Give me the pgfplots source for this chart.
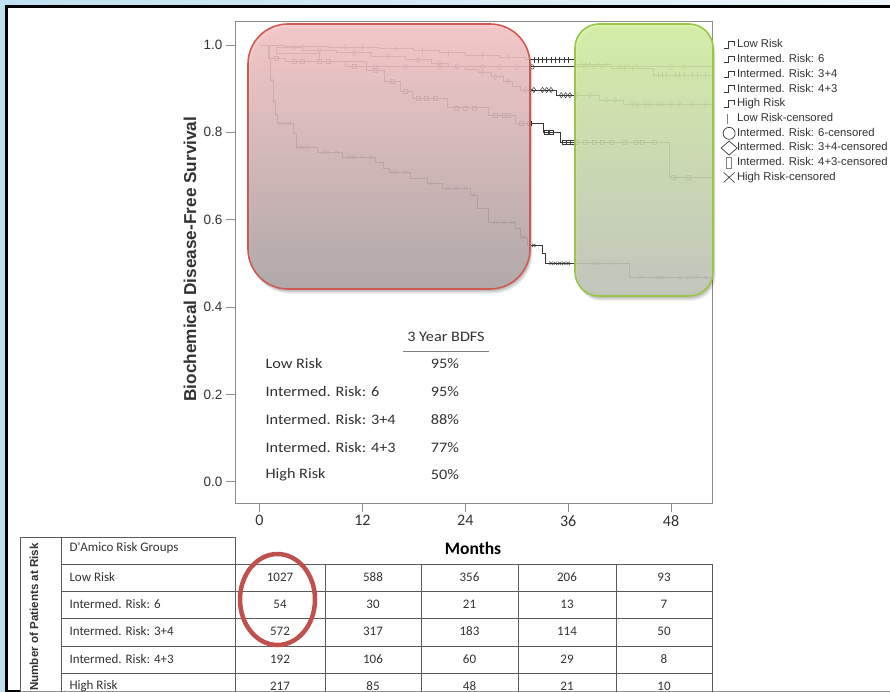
\documentclass[border=0pt]{standalone}
\usepackage{fontspec}
\setmainfont{Liberation Sans}
\newfontfamily\calfont{Carlito}
\newfontfamily\calw{Carlito}[FakeStretch=1.12]
\usepackage{pgfplots}
\pgfplotsset{compat=1.18}
\definecolor{txt}{RGB}{50,50,50}
\definecolor{axc}{RGB}{140,140,140}
\definecolor{curve}{RGB}{55,55,55}
\definecolor{redb}{RGB}{208,88,82}
\definecolor{redt}{RGB}{251,200,200}
\definecolor{redm}{RGB}{196,156,156}
\definecolor{redbot}{RGB}{174,166,166}
\definecolor{grb}{RGB}{155,197,70}
\definecolor{grt}{RGB}{214,244,164}
\definecolor{grm}{RGB}{155,176,122}
\definecolor{grbot}{RGB}{194,198,188}
\definecolor{ellc}{RGB}{192,80,77}
\definecolor{bgl}{RGB}{190,224,240}
\definecolor{bgr}{RGB}{236,246,251}
\definecolor{tbl}{RGB}{90,90,90}
\begin{document}
\begin{tikzpicture}
\path[use as bounding box] (0pt,0pt) rectangle (890pt,-692pt);
\clip (0pt,0pt) rectangle (890pt,-692pt);
\begin{scope}[x=1pt,y=-1pt]
\shade[left color=bgl, right color=bgr] (0,0) rectangle (890,692);
\fill[white] (7,7) rectangle (900,691);
\draw[black, line width=3pt] (900,6.5) -- (6.5,6.5) -- (6.5,692);
\draw[black, line width=1.2pt] (5,691) -- (20,691);
\draw[axc, line width=0.8pt] (20,691) -- (890,691);
\end{scope}
\begin{axis}[
  at={(235pt,-503pt)}, anchor=south west,
  scale only axis, width=477pt, height=482pt,
  xmin=-2.858, xmax=52.78, ymin=-0.0488, ymax=1.055,
  xtick={0,12,24,36,48}, ytick={0,0.2,0.4,0.6,0.8,1.0},
  /pgf/number format/assume math mode=true,
  yticklabel style={/pgf/number format/fixed, /pgf/number format/fixed zerofill, /pgf/number format/precision=1, font=\fontsize{13.5}{13.5}\selectfont, text=txt},
  tick align=outside, major tick length=9pt, tick pos=left,
  axis line style={axc, line width=0.8pt},
  tick style={axc, line width=0.8pt},
  xticklabel style={font=\calfont\fontsize{16}{16}\selectfont, text=txt},
  ylabel={Biochemical Disease-Free Survival},
  ylabel style={font=\bfseries\fontsize{17.2}{17.2}\selectfont, text=txt, at={(axis description cs:-0.0943,0.506)}, anchor=center},
  legend style={at={(axis description cs:1.021,0.9635)}, anchor=north west, draw=none, fill=none, inner sep=0pt, row sep=2pt,
    font=\fontsize{11.3}{12}\selectfont, text=txt, nodes={text height=8.2pt, text depth=2.5pt, inner sep=1pt}},
  legend cell align=left,
  stepleg/.style={legend image code/.code={\path (0pt,0pt) (13pt,0pt); \draw[overlay, line width=0.7pt, curve] (1pt,-3pt) -- (6pt,-3pt) -- (6pt,3.5pt) -- (12pt,3.5pt) -- (12pt,-1pt);}},
  km/.style={const plot, curve, line width=0.8pt, stepleg},
  cens/.style={only marks, mark options={solid, draw=curve, fill=none, line width=0.5pt}},
]
\addplot[km] coordinates {(0,1)(3,0.997)(8,0.995)(14,0.992)(18,0.987)(21,0.982)(24,0.977)(28,0.972)(31,0.966)(36.8,0.955)(41,0.947)(46,0.931)(52.78,0.931)};
\addlegendentry{Low Risk}
\addplot[km] coordinates {(0,1)(2,0.981)(7,0.963)(12.5,0.950)(52.78,0.950)};
\addlegendentry{Intermed. Risk: 6}
\addplot[km] coordinates {(0,1)(2,0.994)(5,0.988)(9,0.982)(13,0.975)(17,0.966)(20,0.958)(22,0.952)(24,0.945)(25.5,0.937)(27,0.927)(28.5,0.917)(29.5,0.905)(30.4,0.897)(34.6,0.885)(39.7,0.874)(42.4,0.865)(52.78,0.865)};
\addlegendentry{Intermed. Risk: 3+4}
\addplot[km] coordinates {(0,1)(1.2,0.970)(3,0.962)(10,0.951)(12.5,0.943)(14.6,0.916)(16.4,0.894)(17.8,0.878)(21.9,0.856)(26.7,0.839)(29.9,0.821)(33.1,0.80)(35.1,0.777)(47.8,0.697)(52.78,0.697)};
\addlegendentry{Intermed. Risk: 4+3}
\addplot[km] coordinates {(0,1)(1.0,0.97)(1.3,0.92)(1.6,0.87)(1.8,0.84)(2.1,0.821)(3.9,0.798)(4.3,0.766)(6.7,0.755)(9.7,0.743)(13.5,0.732)(14.4,0.718)(15.2,0.709)(17.6,0.695)(19.6,0.683)(21.3,0.672)(24.6,0.656)(25.4,0.626)(26.7,0.594)(29.9,0.580)(30.4,0.56)(31.3,0.541)(33,0.523)(33.4,0.50)(43.1,0.468)(52.78,0.468)};
\addlegendentry{High Risk}
\addplot[cens, mark=|, mark size=2.8pt, legend image code/.code={\path (0pt,0pt) (13pt,0pt); \draw[overlay, gray, line width=0.8pt] (5pt,-5pt) -- (5pt,5pt);}] coordinates {(5,0.997)(10,0.995)(12,0.995)(16,0.992)(19,0.987)(22,0.982)(26,0.977)(29,0.972)(31.5,0.966)(32,0.966)(32.5,0.966)(33,0.966)(33.5,0.966)(34,0.966)(34.5,0.966)(35,0.966)(35.5,0.966)(36,0.966)(37.5,0.955)(38,0.955)(38.5,0.955)(39.5,0.955)(40.5,0.955)(42.5,0.947)(43.5,0.947)(46.5,0.931)(47,0.931)(47.5,0.931)(48.5,0.931)(49,0.931)(49.5,0.931)(50.5,0.931)(51,0.931)(52,0.931)};
\addlegendentry{Low Risk-censored}
\addplot[cens, mark=o, mark size=2.2pt, legend image code/.code={\path (0pt,0pt) (13pt,0pt); \draw[overlay, curve, line width=0.7pt] (6.5pt,0pt) circle (6pt);}] coordinates {(13.5,0.95)(17,0.95)(21,0.95)(23,0.95)(26,0.95)(28,0.95)(30,0.95)(31.8,0.95)(38,0.95)(39,0.95)(40,0.95)(42,0.95)(43,0.95)(44,0.95)(48,0.95)(49.5,0.95)};
\addlegendentry{Intermed. Risk: 6-censored}
\addplot[cens, mark=diamond, mark size=2.6pt, legend image code/.code={\path (0pt,0pt) (13pt,0pt); \draw[overlay, curve, line width=0.7pt] (-1.5pt,0pt) -- (6.5pt,-7pt) -- (14.5pt,0pt) -- (6.5pt,7pt) -- cycle;}] coordinates {(4,0.994)(7,0.988)(11,0.982)(15,0.975)(18.5,0.966)(21,0.958)(23,0.952)(26,0.937)(27.5,0.927)(29,0.917)(31,0.897)(31.5,0.897)(32,0.897)(33,0.897)(33.5,0.897)(34,0.897)(35.2,0.885)(35.7,0.885)(36.2,0.885)(37,0.885)(38.5,0.885)(40.5,0.874)(41.5,0.874)(43.5,0.865)(44,0.865)(45,0.865)(45.5,0.865)(46.5,0.865)(47,0.865)(48,0.865)(49,0.865)(50.5,0.865)(52,0.865)};
\addlegendentry{Intermed. Risk: 3+4-censored}
\addplot[cens, mark=square, mark size=2pt, legend image code/.code={\path (0pt,0pt) (13pt,0pt); \draw[overlay, gray, line width=0.7pt] (4pt,-5.5pt) rectangle (9pt,5.5pt);}] coordinates {(2,0.970)(4,0.962)(5,0.962)(7,0.962)(8,0.962)(11,0.951)(13.5,0.943)(15.5,0.916)(17,0.894)(18.5,0.878)(19.5,0.878)(20.5,0.878)(23,0.856)(24,0.856)(25,0.856)(27.5,0.839)(28.5,0.839)(29,0.839)(30.5,0.821)(31.5,0.821)(33.5,0.80)(34,0.80)(35.5,0.777)(36,0.777)(36.5,0.777)(37,0.777)(38,0.777)(39,0.777)(40,0.777)(41,0.777)(42.5,0.777)(44,0.777)(44.7,0.777)(46,0.777)(48.3,0.697)(50,0.697)};
\addlegendentry{Intermed. Risk: 4+3-censored}
\addplot[cens, mark=x, mark size=2.4pt, legend image code/.code={\path (0pt,0pt) (13pt,0pt); \draw[overlay, curve, line width=0.6pt] (1pt,-5pt) -- (12pt,5pt) (1pt,5pt) -- (12pt,-5pt);}] coordinates {(1.4,0.92)(1.7,0.87)(2.5,0.821)(3,0.821)(3.5,0.821)(4.5,0.766)(5,0.766)(5.5,0.766)(7.5,0.755)(8,0.755)(9,0.755)(10.5,0.743)(11,0.743)(12,0.743)(13,0.743)(15.5,0.709)(16,0.709)(17,0.709)(20,0.683)(22,0.672)(23,0.672)(24,0.672)(25,0.656)(27.5,0.594)(28.5,0.594)(29.5,0.594)(30.8,0.56)(32,0.541)(34,0.50)(34.5,0.50)(35,0.50)(35.5,0.50)(36,0.50)(39,0.50)(39.5,0.50)(41,0.50)(44.5,0.468)(46.5,0.468)(47,0.468)(49,0.468)(50,0.468)(50.5,0.468)(51,0.468)(52,0.468)};
\addlegendentry{High Risk-censored}
\end{axis}
\begin{scope}[x=1pt,y=-1pt]
% soft shadows
\foreach \s/\o in {5/0.05,4/0.06,3/0.07,2/0.08} {
  \fill[black, fill opacity=\o, rounded corners=40pt] (248+0.5*\s,24+\s) rectangle (530+0.5*\s,289+\s);
  \fill[black, fill opacity=\o, rounded corners=24pt] (575+0.5*\s,24+\s) rectangle (713+0.5*\s,296+\s);
}
% overlays
\shade[top color=redt, middle color=redm, bottom color=redbot, fill opacity=0.87, rounded corners=40pt] (248,24) rectangle (530,289);
\draw[redb, line width=1.6pt, rounded corners=40pt] (248,24) rectangle (530,289);
\shade[top color=grt, middle color=grm, bottom color=grbot, fill opacity=0.88, rounded corners=24pt] (575,24) rectangle (713,296);
\draw[grb, line width=1.6pt, rounded corners=24pt] (575,24) rectangle (713,296);
% inner BDFS table
\begin{scope}[every node/.style={font=\calw\fontsize{14.5}{14.5}\selectfont, text=txt}]
\node at (446,337) {3 Year BDFS};
\draw[gray, line width=0.8pt] (403,351) -- (489,351);
\node[anchor=west] at (262,364) {Low Risk};
\node[anchor=west] at (262,392) {Intermed. Risk: 6};
\node[anchor=west] at (262,420) {Intermed. Risk: 3+4};
\node[anchor=west] at (262,448) {Intermed. Risk: 4+3};
\node[anchor=west] at (262,475) {High Risk};
\node at (445,364) {95\%};
\node at (445,392) {95\%};
\node at (445,420) {88\%};
\node at (445,448) {77\%};
\node at (445,475) {50\%};
\end{scope}
% risk table
\node[font=\calfont\bfseries\fontsize{17.5}{17.5}\selectfont, text=black] at (473,548) {Months};
\draw[tbl, line width=0.9pt] (20,537) -- (235,537);
\draw[tbl, line width=0.9pt] (20,537) -- (20,700);
\draw[tbl, line width=0.9pt] (61,537) -- (61,700);
\draw[tbl, line width=0.9pt] (235,537) -- (235,700);
\foreach \yy in {564,591,618,646,673} {\draw[tbl, line width=0.9pt] (61,\yy) -- (712,\yy);}
\foreach \xx in {325,421,518,616,712} {\draw[tbl, line width=0.9pt] (\xx,564) -- (\xx,700);}
\node[rotate=90, font=\bfseries\fontsize{11.6}{11.6}\selectfont, text=txt] at (34,617) {Number of Patients at Risk};
\begin{scope}[every node/.style={font=\calfont\fontsize{13}{13}\selectfont, text=txt}]
\node[anchor=west] at (66,548) {D'Amico Risk Groups};
\node[anchor=west] at (66,577) {Low Risk};
\node[anchor=west] at (66,604) {Intermed. Risk: 6};
\node[anchor=west] at (66,631) {Intermed. Risk: 3+4};
\node[anchor=west] at (66,659) {Intermed. Risk: 4+3};
\node[anchor=west] at (66,686) {High Risk};
\foreach \yy/\a/\b/\c/\d/\e in {577/1027/588/356/206/93, 604/54/30/21/13/7, 631/572/317/183/114/50, 659/192/106/60/29/8, 686/217/85/48/21/10} {
  \node at (280,\yy) {\a}; \node at (373,\yy) {\b}; \node at (469.5,\yy) {\c}; \node at (567,\yy) {\d}; \node at (664,\yy) {\e};
}
\end{scope}
\draw[ellc, line width=4.5pt] (277.5,599.5) ellipse (37.5 and 45.5);
\end{scope}
\end{tikzpicture}
\end{document}
